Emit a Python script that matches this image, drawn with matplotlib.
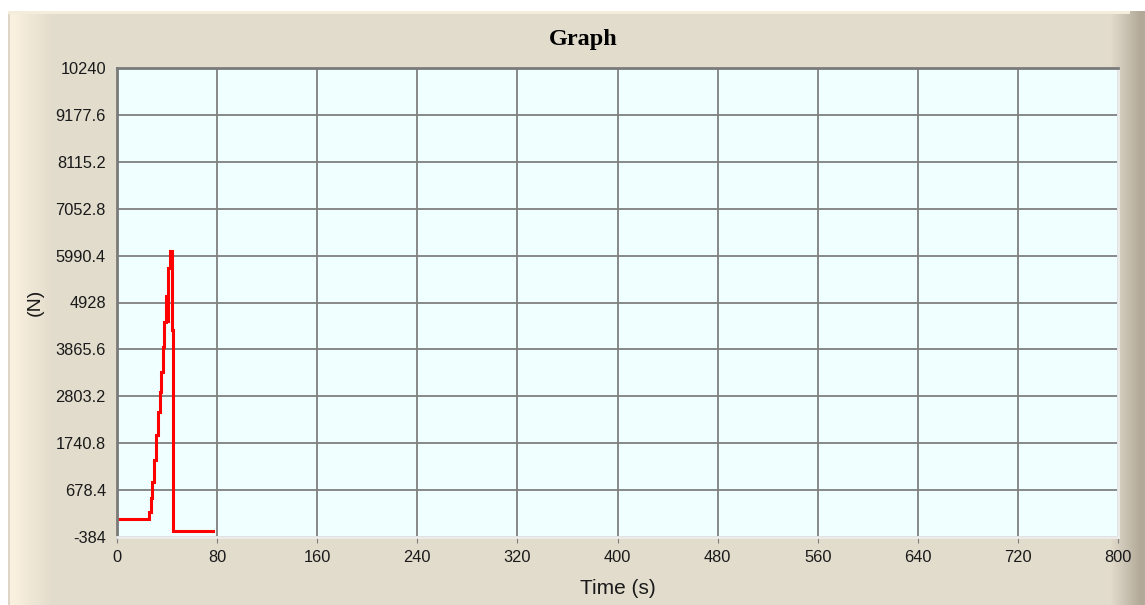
import numpy as np
import matplotlib
matplotlib.use("Agg")
import matplotlib.pyplot as plt

# force readings taken off the reference trace (time in s, force in N)
time_s = [1.0, 25.8, 27.0, 28.3, 29.6, 31.2, 32.8, 34.1, 35.4, 36.5, 37.6, 38.9,
          40.3, 41.0, 42.2, 43.6, 44.9, 76.8]
force_n = [17, 191, 491, 868, 1355, 1920, 2447, 2898, 3350, 3914, 4478, 5080,
           4514, 5718, 6093, 4300, -237, -237]

x_ticks = [0, 80, 160, 240, 320, 400, 480, 560, 640, 720, 800]
y_ticks = [-384, 678.4, 1740.8, 2803.2, 3865.6, 4928, 5990.4, 7052.8, 8115.2, 9177.6, 10240]
y_labels = ["-384", "678.4", "1740.8", "2803.2", "3865.6", "4928", "5990.4",
            "7052.8", "8115.2", "9177.6", "10240"]

W, H = 1145, 605
fig = plt.figure(figsize=(W / 100, H / 100), dpi=100, facecolor="white")

# window-like panel background with shaded edges
panel = np.array([0.890, 0.863, 0.800])
bg = np.ones((H, W, 3))
bg[11:, 8:] = panel
cols = np.arange(W)
left = np.clip((cols - 12) / 40.0, 0, 1)[:, None]
cream = np.array([0.98, 0.945, 0.875])
grad = cream * (1 - left) + panel * left
bg[11:, 10:60] = grad[10:60]
bg[11:, 8:10] = [0.87, 0.84, 0.78]
right = np.clip((cols - 1110) / 30.0, 0, 1)[:, None]
dark = np.array([0.70, 0.665, 0.60])
grad_r = panel * (1 - right) + dark * right
bg[11:, 1110:] = grad_r[1110:]
bg[11:14, 8:1130] = [0.96, 0.93, 0.86]
bgax = fig.add_axes([0, 0, 1, 1], zorder=-1)
bgax.imshow(bg, aspect="auto", interpolation="bilinear")
bgax.axis("off")

ax = fig.add_axes([117 / W, 1 - 537 / H, (1118 - 117) / W, (537 - 68) / H])
ax.set_facecolor("#F0FFFF")
ax.plot(time_s, force_n, color="#FF0000", lw=2.2, drawstyle="steps-post",
        solid_joinstyle="miter")

ax.set_xlim(0, 800)
ax.set_ylim(-384, 10240)
ax.set_xticks(x_ticks)
ax.set_yticks(y_ticks)
ax.set_yticklabels(y_labels)
ax.grid(True, color="#808080", lw=1.3)
ax.set_axisbelow(True)
ax.tick_params(axis="x", length=4, color="#808080", pad=5, labelsize=11.8,
               labelcolor="#1a1a1a")
ax.tick_params(axis="y", length=0, pad=8, labelsize=11.8, labelcolor="#1a1a1a")
for lab in ax.get_xticklabels() + ax.get_yticklabels():
    lab.set_family("Liberation Sans")

for side in ["top", "left"]:
    ax.spines[side].set_color("#7a7a7a")
    ax.spines[side].set_linewidth(2)
for side in ["bottom", "right"]:
    ax.spines[side].set_color("#ececec")
    ax.spines[side].set_linewidth(2)

ax.set_xlabel("Time (s)", family="Liberation Sans", fontsize=15, color="#1a1a1a")
ax.xaxis.set_label_coords(0.5, -(588 - 537) / (537 - 68), transform=ax.transAxes)
ax.xaxis.label.set_va("center")
ax.set_ylabel("(N)", family="Liberation Sans", fontsize=14, color="#1a1a1a")
ax.yaxis.set_label_coords(-(117 - 35) / (1118 - 117), 0.5, transform=ax.transAxes)
ax.yaxis.label.set_va("center")
fig.text(583 / W, 1 - 39 / H, "Graph", family="Liberation Serif", weight="bold",
         fontsize=17.5, ha="center", va="center")

fig.savefig("out.png", dpi=100, facecolor=fig.get_facecolor())
